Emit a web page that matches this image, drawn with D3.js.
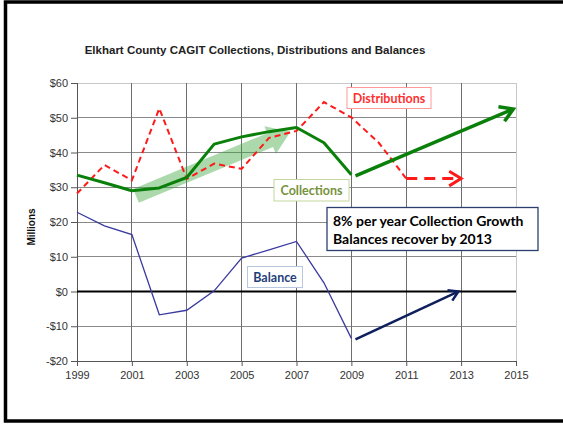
<!DOCTYPE html>
<html>
<head>
<meta charset="utf-8">
<script src="https://cdn.jsdelivr.net/npm/d3@7"></script>
<style>
  html, body { margin: 0; padding: 0; background: #fff; }
  svg { display: block; }
</style>
</head>
<body>
<svg id="chart" width="563" height="424"></svg>
<script>
// Elkhart County CAGIT figures, millions of dollars
const years = [1999, 2000, 2001, 2002, 2003, 2004, 2005, 2006, 2007, 2008, 2009];
const collections = [33.5, 31.3, 29.0, 29.8, 32.8, 42.4, 44.5, 46.0, 47.2, 42.8, 33.6];
const distYears = [1999, 2000, 2001, 2002, 2003, 2004, 2005, 2006, 2007, 2008, 2009, 2010, 2011];
const distributions = [28.2, 36.4, 32.0, 52.7, 32.4, 36.8, 35.3, 44.2, 46.2, 54.5, 50.1, 42.8, 32.5];
const balances = [22.8, 18.9, 16.4, -6.7, -5.4, 0.2, 9.6, 12.0, 14.4, 2.5, -13.5];

// projections drawn as arrows: [x0, y0, x1, y1]
const collectionGrowth = [2009.15, 33.3, 2014.9, 52.5];
const distributionFlat = [2011, 32.5, 2013, 32.5];
const balanceRecovery = [2009.15, -13.8, 2012.9, 0];
// broad highlight arrow over the 2001-2007 rise
const riseTrend = [2001.15, 27.5, 2006.78, 46.0];

const xTicks = [1999, 2001, 2003, 2005, 2007, 2009, 2011, 2013, 2015];
const yTicks = [-20, -10, 0, 10, 20, 30, 40, 50, 60];
const yTickLabels = ["-$20", "-$10", "$0", "$10", "$20", "$30", "$40", "$50", "$60"];

const title = "Elkhart County CAGIT Collections, Distributions and Balances";
const noteLines = ["8% per year Collection Growth", "Balances recover by 2013"];

const svg = d3.select("#chart");
const ARIAL = "'Liberation Sans', Arial, sans-serif";
const CALIBRI = "Lato, 'Open Sans', sans-serif";

// slide frame
svg.append("rect").attr("x", 5.5).attr("y", 2).attr("width", 570).attr("height", 419)
  .attr("fill", "none").attr("stroke", "#000").attr("stroke-width", 3.5);

const x = d3.scaleLinear().domain([1999, 2015]).range([77, 516]);
const y = d3.scaleLinear().domain([-20, 60]).range([361, 83]);

// title
svg.append("text").attr("x", 255).attr("y", 53.5).attr("text-anchor", "middle")
  .attr("font-family", ARIAL).attr("font-weight", "bold").attr("font-size", 11.5)
  .attr("fill", "#222").text(title);

// gridlines
const grid = svg.append("g");
grid.selectAll("line.h").data(yTicks).join("line")
  .attr("x1", x(1999)).attr("x2", x(2015))
  .attr("y1", d => y(d)).attr("y2", d => y(d))
  .attr("stroke", d => d === 60 ? "#c8c8c8" : "#8a8a8a").attr("stroke-width", 1)
  .attr("shape-rendering", "crispEdges");
grid.selectAll("line.v").data(xTicks).join("line")
  .attr("x1", d => x(d)).attr("x2", d => x(d))
  .attr("y1", y(60)).attr("y2", y(-20))
  .attr("stroke", d => d === 2015 ? "#c8c8c8" : "#6e6e6e").attr("stroke-width", 1)
  .attr("shape-rendering", "crispEdges");

// axes
const yAxis = svg.append("g").attr("transform", `translate(${x(1999)},0)`)
  .call(d3.axisLeft(y).tickValues(yTicks).tickSize(6).tickPadding(3)
    .tickFormat((d, i) => yTickLabels[i]));
const xAxis = svg.append("g").attr("transform", `translate(0,${y(-20)})`)
  .call(d3.axisBottom(x).tickValues(xTicks).tickSize(5).tickPadding(5).tickFormat(d3.format("d")));
[yAxis, xAxis].forEach(g => {
  g.select(".domain").attr("stroke", "#555");
  g.selectAll(".tick line").attr("stroke", "#555");
  g.selectAll("text").attr("font-family", ARIAL).attr("font-size", 11).attr("fill", "#333");
});
xAxis.select(".domain").remove();
svg.append("line").attr("x1", x(1999)).attr("x2", x(2015)).attr("y1", y(-20)).attr("y2", y(-20))
  .attr("stroke", "#555").attr("shape-rendering", "crispEdges");

// zero line
svg.append("line").attr("x1", x(1999)).attr("x2", x(2015)).attr("y1", y(0)).attr("y2", y(0))
  .attr("stroke", "#000").attr("stroke-width", 2);

// y axis title
svg.append("text").attr("transform", `translate(35,227) rotate(-90)`).attr("text-anchor", "middle")
  .attr("font-family", ARIAL).attr("font-weight", "bold").attr("font-size", 10).attr("fill", "#111")
  .text("Millions");

// highlight block arrow
(function () {
  const p0 = [x(riseTrend[0]), y(riseTrend[1])];
  const p1 = [x(riseTrend[2]), y(riseTrend[3])];
  const dx = p1[0] - p0[0], dy = p1[1] - p0[1];
  const len = Math.hypot(dx, dy);
  const ux = dx / len, uy = dy / len, nx = -uy, ny = ux;
  const sw = 7.5, hw = 15, hl = 22;
  const b = [p1[0] - ux * hl, p1[1] - uy * hl];
  const pts = [
    [p0[0] + nx * sw, p0[1] + ny * sw],
    [b[0] + nx * sw, b[1] + ny * sw],
    [b[0] + nx * hw, b[1] + ny * hw],
    p1,
    [b[0] - nx * hw, b[1] - ny * hw],
    [b[0] - nx * sw, b[1] - ny * sw],
    [p0[0] - nx * sw, p0[1] - ny * sw]
  ];
  svg.append("polygon").attr("points", pts.map(p => p.join(",")).join(" "))
    .attr("fill", "#3aa53a").attr("fill-opacity", 0.42);
})();

const line = d3.line().x(d => x(d[0])).y(d => y(d[1]));

// balance
svg.append("path").datum(years.map((yr, i) => [yr, balances[i]])).attr("d", line)
  .attr("fill", "none").attr("stroke", "#3a3aa0").attr("stroke-width", 1.3);

// distributions
svg.append("path").datum(distYears.map((yr, i) => [yr, distributions[i]])).attr("d", line)
  .attr("fill", "none").attr("stroke", "#ff1a1a").attr("stroke-width", 2)
  .attr("stroke-dasharray", "6,4");

// collections
svg.append("path").datum(years.map((yr, i) => [yr, collections[i]])).attr("d", line)
  .attr("fill", "none").attr("stroke", "#0a800a").attr("stroke-width", 3)
  .attr("stroke-linejoin", "round");

// projection arrows with open heads
function arrow(a, color, width, dash, head) {
  const p0 = [x(a[0]), y(a[1])], p1 = [x(a[2]), y(a[3])];
  const ang = Math.atan2(p1[1] - p0[1], p1[0] - p0[0]);
  const g = svg.append("g").attr("stroke", color).attr("stroke-width", width)
    .attr("fill", "none").attr("stroke-linecap", "butt");
  g.append("line").attr("x1", p0[0]).attr("y1", p0[1])
    .attr("x2", p1[0] - Math.cos(ang) * width * 0.6).attr("y2", p1[1] - Math.sin(ang) * width * 0.6)
    .attr("stroke-dasharray", dash);
  const spread = 0.55;
  const h1 = [p1[0] - head * Math.cos(ang - spread), p1[1] - head * Math.sin(ang - spread)];
  const h2 = [p1[0] - head * Math.cos(ang + spread), p1[1] - head * Math.sin(ang + spread)];
  g.append("path").attr("d", `M${h1}L${p1}L${h2}`).attr("stroke-linejoin", "miter");
}
arrow(collectionGrowth, "#0a800a", 3.5, null, 15);
arrow(distributionFlat, "#ff1a1a", 3, "11,7", 14);
arrow(balanceRecovery, "#0d1f5c", 2.5, null, 11);

// series labels
function tag(x0, y0, w, h, text, color, border, size) {
  svg.append("rect").attr("x", x0).attr("y", y0).attr("width", w).attr("height", h)
    .attr("fill", "#fff").attr("stroke", border).attr("stroke-width", 1);
  svg.append("text").attr("x", x0 + w / 2).attr("y", y0 + h / 2).attr("dy", "0.36em")
    .attr("text-anchor", "middle").attr("font-family", CALIBRI).attr("font-weight", "bold")
    .attr("font-size", size).attr("fill", color).text(text);
}
tag(347, 87.5, 84, 21, "Distributions", "#ff3030", "#ff9a9a", 12.5);
tag(274, 179.5, 75, 21.5, "Collections", "#76923c", "#c4d79b", 12.5);
tag(247.5, 266.5, 55, 21, "Balance", "#1f3f7a", "#b8c7e0", 12.5);

// note box
svg.append("rect").attr("x", 327).attr("y", 207.5).attr("width", 211).attr("height", 43)
  .attr("fill", "#fff").attr("stroke", "#2b3f6e").attr("stroke-width", 1.3);
noteLines.forEach((t, i) => {
  svg.append("text").attr("x", 333).attr("y", 225.5 + i * 18.7)
    .attr("font-family", CALIBRI).attr("font-weight", "bold").attr("font-size", 14)
    .attr("fill", "#000").text(t);
});
</script>
</body>
</html>
